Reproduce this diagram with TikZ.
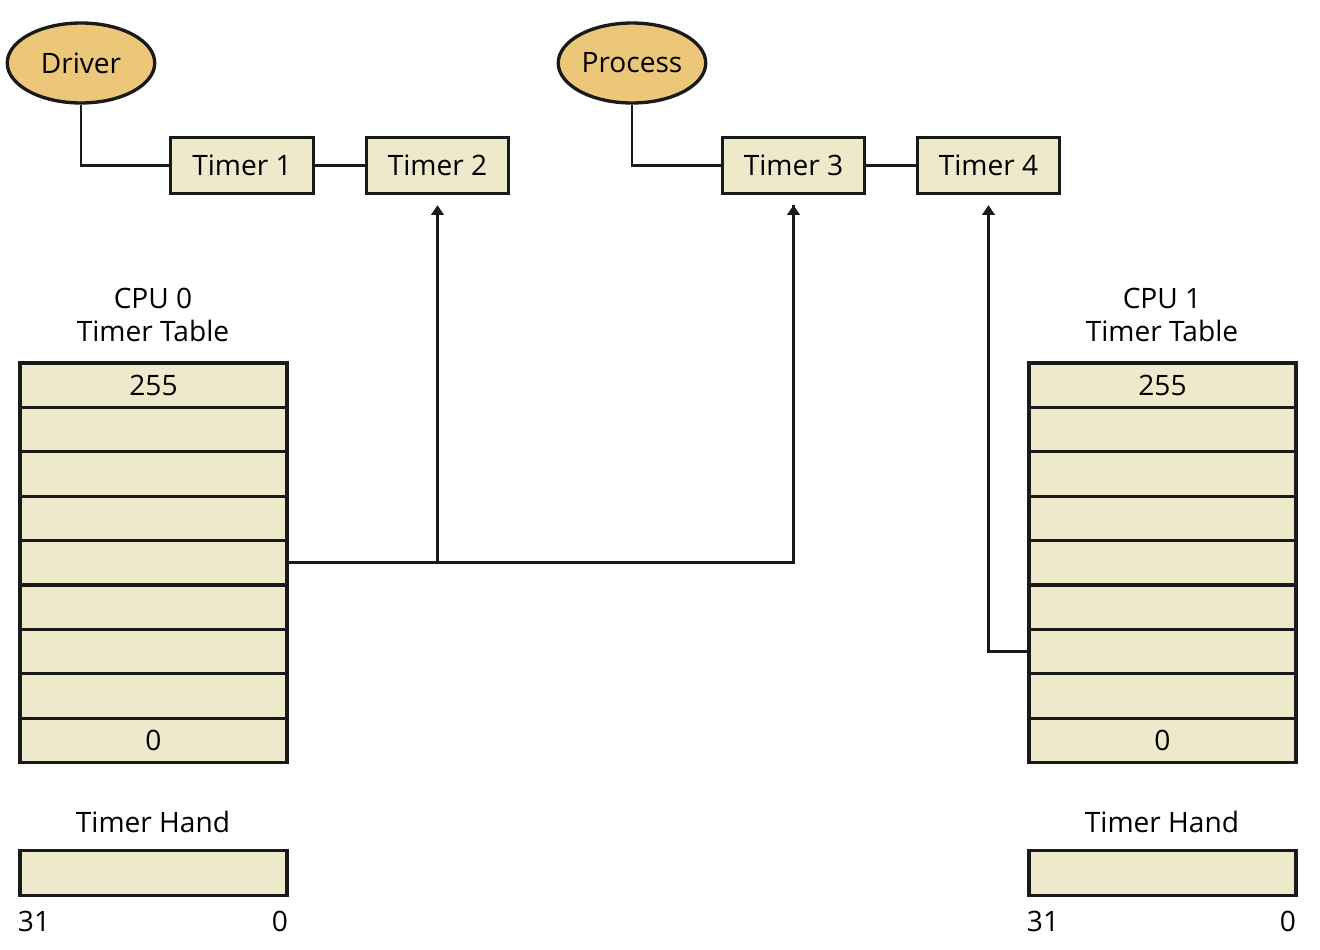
\documentclass[tikz,border=0pt]{standalone}
\usepackage{fontspec}
\setmainfont{Open Sans}
\definecolor{slotFill}{RGB}{239, 233, 203}
\definecolor{ownerFill}{RGB}{236, 198, 121}
\definecolor{lineDark}{RGB}{26, 26, 26}
\usetikzlibrary{positioning, calc, shapes.geometric, arrows.meta}
\tikzset{
  owner/.style={ellipse, draw=lineDark, fill=ownerFill, line width=1.9pt,
                minimum width=2.95cm, minimum height=1.6cm, inner sep=0pt,
                font=\fontsize{16}{19}\selectfont},
  timerbox/.style={rectangle, draw=lineDark, fill=slotFill, line width=1.9pt,
                   minimum width=2.85cm, minimum height=1.12cm, inner sep=0pt,
                   font=\fontsize{16}{19}\selectfont},
  slot/.style={rectangle, draw=lineDark, fill=slotFill, line width=1.9pt,
               minimum width=5.34cm, minimum height=0.888cm, inner sep=0pt,
               font=\fontsize{16}{19}\selectfont},
  caption/.style={align=center, inner sep=0pt,
                  font=\fontsize{16}{19}\selectfont},
  link/.style={draw=lineDark, line width=1.7pt},
  ptr/.style={link, -{Triangle[length=5.5pt, width=7pt]}},
}

\begin{document}
\begin{tikzpicture}[x=0.02cm, y=-0.02cm]
    \useasboundingbox (0,0) rectangle (1320,950);

    % Top: owners and their timer lists
    \node[owner] (drv) at (81,63) {Driver};
    \node[owner] (proc) at (632,63) {Process};

    \node[timerbox] (T1) at (242,165.5) {Timer 1};
    \node[timerbox] (T2) at (437.5,165.5) {Timer 2};
    \node[timerbox] (T3) at (793.5,165.5) {Timer 3};
    \node[timerbox] (T4) at (988.5,165.5) {Timer 4};

    % Per-CPU timer tables
    \node[caption] (cap0) at (153,315) {CPU 0\\Timer Table};
    \node[caption] (cap1) at (1162,315) {CPU 1\\Timer Table};

    \foreach \r in {0,...,8} {
      \node[slot] (A\r) at (153.5,385.2+44.4*\r) {};
      \node[slot] (B\r) at (1162.5,385.2+44.4*\r) {};
    }
    \node at (A0) [font=\fontsize{16}{19}\selectfont] {255};
    \node at (A8) [font=\fontsize{16}{19}\selectfont] {0};
    \node at (B0) [font=\fontsize{16}{19}\selectfont] {255};
    \node at (B8) [font=\fontsize{16}{19}\selectfont] {0};

    % Timer hands
    \node[caption] (hcap0) at (153,822) {Timer Hand};
    \node[caption] (hcap1) at (1162,822) {Timer Hand};
    \node[slot] (H0) at (153.5,873) {};
    \node[slot] (H1) at (1162.5,873) {};
    \node[caption] (H0hi) at (34,921) {31};
    \node[caption] (H0lo) at (280,921) {0};
    \node[caption] (H1hi) at (1043,921) {31};
    \node[caption] (H1lo) at (1288,921) {0};

    % Connections
    \draw[link] (drv.south) |- (T1.west);
    \draw[link] (T1) -- (T2);
    \draw[link] (proc.south) |- (T3.west);
    \draw[link] (T3) -- (T4);

    \coordinate (fork) at (T2.south |- A4.east);
    \draw[link] (A4.east) -| ($(T3.south)+(0,10)$);
    \draw[ptr] (fork) -- ($(T2.south)+(0,10)$);
    \draw[ptr] ($(T3.south)+(0,40)$) -- ($(T3.south)+(0,10)$);
    \draw[ptr] (B6.west) -| ($(T4.south)+(0,10)$);
\end{tikzpicture}
\end{document}
